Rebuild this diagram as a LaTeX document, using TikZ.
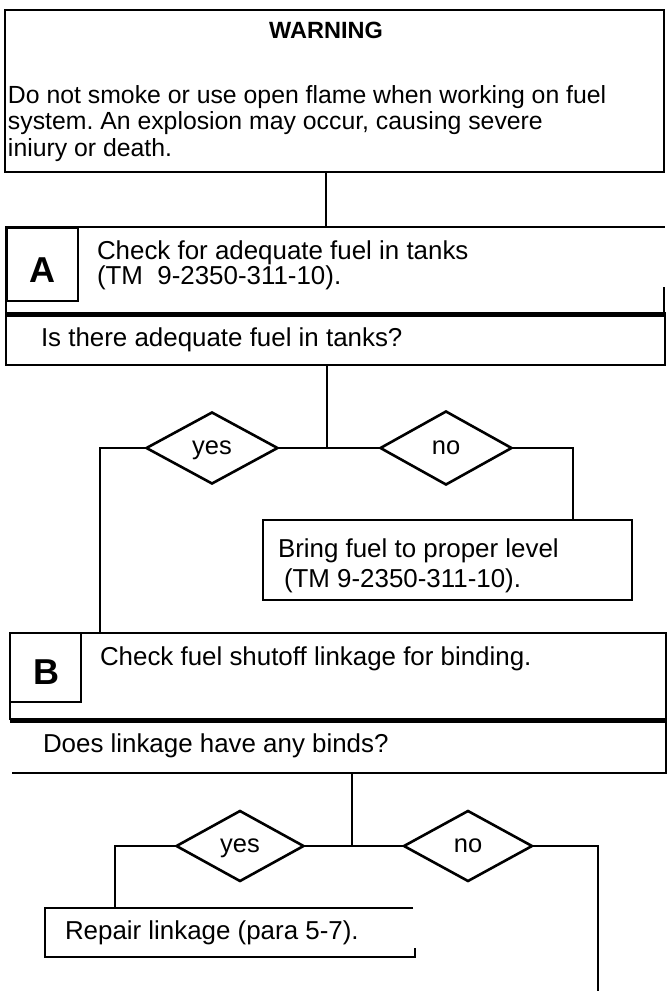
\documentclass[tikz,border=0pt]{standalone}
\usepackage{fontspec}
\setmainfont{Liberation Sans}
\usetikzlibrary{shapes.geometric,calc}
\frenchspacing
\begin{document}
\begin{tikzpicture}[x=1pt,y=-1pt,
  ln/.style={line width=2.6pt},
  thk/.style={line width=5pt},
  thin/.style={line width=1.2pt},
  boxr/.style={rectangle,inner sep=0pt,outer sep=0pt,line width=2.6pt},
  dia/.style={diamond,draw,line width=2.6pt,inner sep=0pt,outer sep=0pt,text depth=0pt,font=\fontsize{25.5}{26}\selectfont},
  txt/.style={anchor=base west,inner sep=0pt,outer sep=0pt,font=\fontsize{25.9}{26}\selectfont},
  wtxt/.style={anchor=base west,inner sep=0pt,outer sep=0pt,font=\fontsize{24.8}{26}\selectfont},
  lett/.style={inner sep=0pt,outer sep=0pt,font=\fontsize{36}{36}\selectfont\bfseries}
]
\useasboundingbox (0,0) rectangle (668,991);

% ---------- warning ----------
\node[boxr,draw,minimum width=659pt,minimum height=162pt] (warn) at (334.5,91) {};
\node[inner sep=0pt,font=\fontsize{23.5}{24}\selectfont\bfseries] (wtitle) at (326,30.5) {WARNING};
\node[wtxt] (w1) at (8,103) {Do not smoke or use open flame when working on fuel};
\node[wtxt] (w2) at (8,129) {system. An explosion may occur, causing severe};
\node[wtxt] (w3) at (8,156) {iniury or death.};

% ---------- section A ----------
\node[boxr,minimum width=659pt,minimum height=87pt,anchor=north west] (secA) at (6,227) {};
\draw[ln] (secA.south west) -- (secA.north west) -- (secA.north east);
\draw[thin] ($(secA.south east)+(-1,-27)$) -- ($(secA.south east)+(-1,0)$);
\node[boxr,draw,minimum width=71pt,minimum height=73pt,anchor=north west] (sqA) at (7,228) {};
\node[lett] (la) at (42,270) {A};
\node[txt] (ta1) at (97,259) {Check for adequate fuel in tanks};
\node[txt] (ta2) at (97,284) {(TM\ \ 9-2350-311-10).};

\node[boxr,draw,minimum width=659pt,minimum height=51pt,anchor=north west] (qA) at (6,314) {};
\draw[thk] (secA.south west) -- ($(secA.south east)+(1,0)$);
\node[txt] (tqa) at (41,346) {Is there adequate fuel in tanks?};

\draw[ln] (warn.south -| wtitle) -- (secA.north -| wtitle);

% ---------- decision A ----------
\coordinate (jA) at (327,448);
\node[dia,minimum width=131pt,minimum height=71pt] (yesA) at (212,448) {yes};
\node[dia,minimum width=131pt,minimum height=73pt] (noA) at (446,448) {no};
\coordinate (lA) at (100,448);
\coordinate (rA) at (573,448);
\draw[ln] (qA.south -| jA) -- (jA);
\draw[ln] (yesA.east) -- (noA.west);

\node[boxr,draw,minimum width=369pt,minimum height=80pt,anchor=north west] (bring) at (263,520) {};
\node[txt] (tb1) at (278,557) {Bring fuel to proper level};
\node[txt] (tb2) at (284,587) {(TM 9-2350-311-10).};
\draw[ln] (noA.east) -- (rA) -- (rA |- bring.north);

% ---------- section B ----------
\node[boxr,minimum width=656pt,minimum height=87pt,anchor=north west] (secB) at (10,633) {};
\draw[ln] (secB.south west) -- (secB.north west) -- (secB.north east) -- (secB.south east);
\draw[thk] (secB.south west) -- (secB.south east);
\node[boxr,draw,minimum width=71pt,minimum height=69pt,anchor=north west] (sqB) at (10,633) {};
\node[lett] (lb) at (46,672.5) {B};
\node[txt] (tb) at (100,665) {Check fuel shutoff linkage for binding.};
\draw[ln] (yesA.west) -- (lA) -- (lA |- secB.north);

\node[boxr,minimum width=654pt,minimum height=53pt,anchor=north west] (qB) at (12,720) {};
\draw[ln] (qB.north east) -- (qB.south east) -- (qB.south west);
\node[txt] (tqb) at (43,752) {Does linkage have any binds?};

% ---------- decision B ----------
\coordinate (jB) at (352,846);
\node[dia,minimum width=127pt,minimum height=70pt] (yesB) at (240,846) {yes};
\node[dia,minimum width=128pt,minimum height=70pt] (noB) at (468,846) {no};
\coordinate (lB) at (115,846);
\coordinate (rB) at (598,846);
\coordinate (endB) at (598,991);
\draw[ln] (qB.south -| jB) -- (jB);
\draw[ln] (yesB.east) -- (noB.west);
\draw[ln] (noB.east) -- (rB) -- (endB);

\node[boxr,minimum width=370pt,minimum height=49pt,anchor=north west] (rep) at (45,908) {};
\draw[ln] ($(rep.north east)+(-2,0)$) -- (rep.north west) -- (rep.south west) -- (rep.south east) -- ++(0,-9);
\node[txt] (tr) at (65,939) {Repair linkage (para 5-7).};
\draw[ln] (yesB.west) -- (lB) -- (lB |- rep.north);
\end{tikzpicture}
\end{document}
